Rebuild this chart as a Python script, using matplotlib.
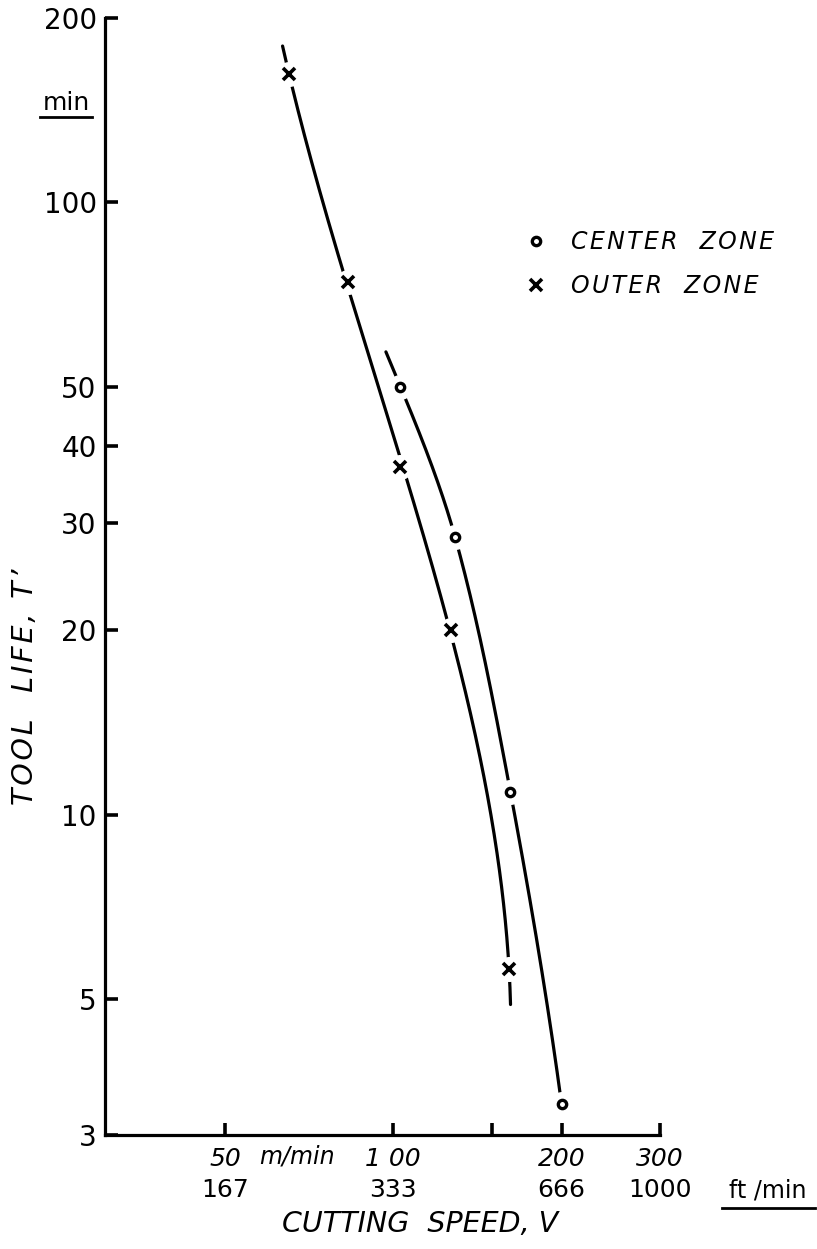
import numpy as np
import matplotlib
matplotlib.use("Agg")
import matplotlib.pyplot as plt
from matplotlib.lines import Line2D
from matplotlib.transforms import blended_transform_factory

# Tool life test results (cutting speed in m/min, tool life in min)
outer_speed = [65, 83, 103, 127, 161]
outer_life = [162, 74, 37, 20, 5.6]
center_speed = [103, 129, 162, 200]
center_life = [50, 28.4, 10.9, 3.37]

# Extent of the hand-faired curves along the life axis
outer_curve_life = (4.9, 180)
center_curve_life = (3.37, 57)

speed_ticks = [50, 100, 200, 300]
speed_labels_m = ["50", "1 00", "200", "300"]
speed_labels_ft = ["167", "333", "666", "1000"]
speed_minor = [150]
life_ticks = [3, 5, 10, 20, 30, 40, 50, 100, 200]
life_labels = ["3", "5", "10", "20", "30", "40", "50", "100", "200"]

W, H = 817, 1249
fig = plt.figure(figsize=(W / 100, H / 100), dpi=100)
ax = fig.add_axes([105 / W, 1 - 1135 / H, (660 - 105) / W, (1135 - 18) / H])
ax.set_xscale("log")
ax.set_yscale("log")
ax.set_xlim(30.5, 300)
ax.set_ylim(3, 200)


def faired_poly(speed, life, deg, lo, hi):
    """Least-squares polynomial of log(speed) against log(life)."""
    coef = np.polyfit(np.log10(life), np.log10(speed), deg)
    t = np.linspace(np.log10(lo), np.log10(hi), 400)
    return 10 ** np.polyval(coef, t), 10 ** t


def faired_pchip(speed, life, lo, hi):
    """Monotone cubic (Fritsch-Carlson) through the points in log-log space,
    continued linearly past the end points."""
    order = np.argsort(life)
    tk = np.log10(np.asarray(life, float)[order])
    vk = np.log10(np.asarray(speed, float)[order])
    h = np.diff(tk)
    delta = np.diff(vk) / h
    n = len(tk)
    d = np.zeros(n)
    for i in range(1, n - 1):
        if delta[i - 1] * delta[i] > 0:
            w1 = 2 * h[i] + h[i - 1]
            w2 = h[i] + 2 * h[i - 1]
            d[i] = (w1 + w2) / (w1 / delta[i - 1] + w2 / delta[i])
    d[0] = ((2 * h[0] + h[1]) * delta[0] - h[0] * delta[1]) / (h[0] + h[1])
    d[-1] = ((2 * h[-1] + h[-2]) * delta[-1] - h[-1] * delta[-2]) / (h[-1] + h[-2])
    t = np.linspace(np.log10(lo), np.log10(hi), 400)
    v = np.empty_like(t)
    for j, tq in enumerate(t):
        if tq <= tk[0]:
            v[j] = vk[0] + d[0] * (tq - tk[0])
        elif tq >= tk[-1]:
            v[j] = vk[-1] + d[-1] * (tq - tk[-1])
        else:
            i = np.searchsorted(tk, tq) - 1
            s = (tq - tk[i]) / h[i]
            h00 = 2 * s**3 - 3 * s**2 + 1
            h10 = s**3 - 2 * s**2 + s
            h01 = -2 * s**3 + 3 * s**2
            h11 = s**3 - s**2
            v[j] = (h00 * vk[i] + h10 * h[i] * d[i]
                    + h01 * vk[i + 1] + h11 * h[i] * d[i + 1])
    return 10 ** v, 10 ** t


def spaced(text, gap="\u200a"):
    """Open up the lettering by putting a narrow space between characters."""
    return gap.join(text)


ox, oy = faired_poly(outer_speed, outer_life, 3, *outer_curve_life)
cx, cy = faired_pchip(center_speed, center_life, *center_curve_life)

ink = "black"
ax.plot(ox, oy, color=ink, lw=2.3, solid_capstyle="round", zorder=2)
ax.plot(cx, cy, color=ink, lw=2.3, solid_capstyle="round", zorder=2)

# white halos break the curves around each plotted point
ax.plot(outer_speed, outer_life, "o", ms=17, color="white", mec="white", zorder=3)
ax.plot(center_speed, center_life, "o", ms=17, color="white", mec="white", zorder=3)

ax.plot(outer_speed, outer_life, "x", ms=8, mew=2.6, color=ink, zorder=4)
ax.plot(center_speed, center_life, "o", ms=6, mew=2.4, mfc="white", mec=ink, zorder=4)

for side in ("top", "right"):
    ax.spines[side].set_visible(False)
for side in ("left", "bottom"):
    ax.spines[side].set_linewidth(2.3)

ax.set_yticks(life_ticks)
ax.set_yticklabels(life_labels)
ax.yaxis.set_minor_locator(matplotlib.ticker.NullLocator())
ax.set_xticks(speed_ticks)
ax.set_xticklabels(speed_labels_m, fontstyle="italic")
ax.set_xticks(speed_minor, minor=True)
ax.xaxis.set_minor_formatter(matplotlib.ticker.NullFormatter())

ax.tick_params(axis="both", which="both", direction="in", length=9, width=2.6,
               color=ink)
ax.tick_params(axis="y", labelsize=20, pad=6)
ax.tick_params(axis="x", labelsize=18, pad=9)

# second row of speed labels in ft/min
trans = blended_transform_factory(ax.transData, ax.transAxes)
for v, lab in zip(speed_ticks, speed_labels_ft):
    ax.text(v, -0.049, lab, transform=trans, ha="center", va="center",
            fontsize=18)


def px(x, y):
    return x / W, 1 - y / H


fig.text(*px(297, 1157), "m/min", ha="center", va="center", fontsize=17,
         fontstyle="italic")
fig.text(*px(768, 1191), "ft /min", ha="center", va="center", fontsize=17)
fig.add_artist(Line2D([722 / W, 815 / W], [1 - 1208 / H] * 2, color=ink, lw=2))

fig.text(*px(66, 103), "min", ha="center", va="center", fontsize=18)
fig.add_artist(Line2D([40 / W, 92 / W], [1 - 117 / H] * 2, color=ink, lw=2))

fig.text(*px(420, 1224), "CUTTING  SPEED, V", ha="center",
         va="center", fontsize=20.5, fontstyle="italic")
fig.text(*px(25, 687), spaced("TOOL  LIFE, T\u2019"), ha="center",
         va="center", fontsize=20.5, fontstyle="italic", rotation=90)

handles = [
    Line2D([], [], ls="none", marker="o", ms=6, mew=2.4, mfc="white", mec=ink),
    Line2D([], [], ls="none", marker="x", ms=8, mew=2.6, color=ink),
]
ax.legend(handles, [spaced("CENTER  ZONE"), spaced("OUTER  ZONE")],
          loc="upper left", bbox_to_anchor=px(512, 218),
          bbox_transform=fig.transFigure, frameon=False, handlelength=1.0,
          handletextpad=1.0, labelspacing=0.85, borderpad=0,
          prop={"size": 17, "style": "italic"})

fig.savefig("out.png", dpi=100, facecolor="white")
